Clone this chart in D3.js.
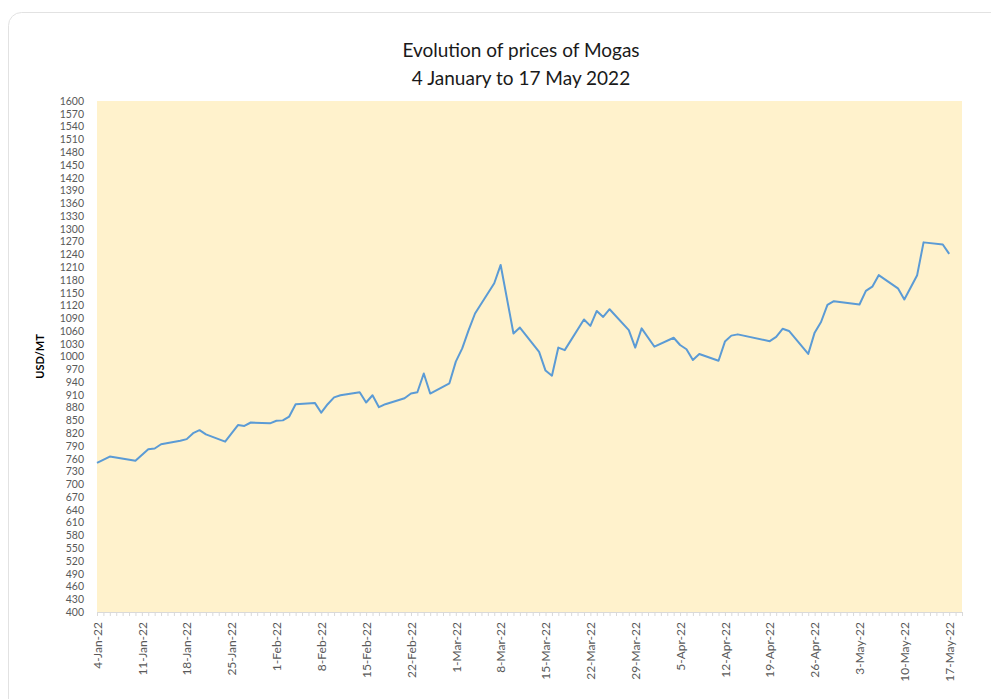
<!DOCTYPE html>
<html>
<head>
<meta charset="utf-8">
<script src="https://cdn.jsdelivr.net/npm/d3@7"></script>
<style>
  body { margin: 0; background: #fff; }
  svg { display: block; }
</style>
</head>
<body>
<div id="chart"></div>
<script>
// data
var dates = ["2022-01-04","2022-01-06","2022-01-10","2022-01-12","2022-01-13","2022-01-14","2022-01-17","2022-01-18",
  "2022-01-19","2022-01-20","2022-01-21","2022-01-24","2022-01-26","2022-01-27","2022-01-28","2022-01-31",
  "2022-02-01","2022-02-02","2022-02-03","2022-02-04","2022-02-07","2022-02-08","2022-02-09","2022-02-10",
  "2022-02-11","2022-02-14","2022-02-15","2022-02-16","2022-02-17","2022-02-18","2022-02-21","2022-02-22",
  "2022-02-23","2022-02-24","2022-02-25","2022-02-28","2022-03-01","2022-03-02","2022-03-03","2022-03-04",
  "2022-03-07","2022-03-08","2022-03-10","2022-03-11","2022-03-14","2022-03-15","2022-03-16","2022-03-17",
  "2022-03-18","2022-03-21","2022-03-22","2022-03-23","2022-03-24","2022-03-25","2022-03-28","2022-03-29",
  "2022-03-30","2022-04-01","2022-04-04","2022-04-05","2022-04-06","2022-04-07","2022-04-08","2022-04-11",
  "2022-04-12","2022-04-13","2022-04-14","2022-04-19","2022-04-20","2022-04-21","2022-04-22","2022-04-25",
  "2022-04-26","2022-04-27","2022-04-28","2022-04-29","2022-05-03","2022-05-04","2022-05-05","2022-05-06",
  "2022-05-09","2022-05-10","2022-05-12","2022-05-13","2022-05-16","2022-05-17"];
var prices = [750,765,755,782,784,794,802,806,
  820,827,817,800,839,837,845,843,
  849,850,859,888,891,868,888,904,
  909,916,892,909,881,888,902,913,
  916,960,913,937,988,1019,1062,1101,
  1172,1215,1054,1068,1011,967,955,1021,
  1015,1087,1072,1107,1093,1111,1062,1021,
  1066,1023,1044,1027,1017,992,1006,990,
  1035,1049,1052,1036,1046,1065,1060,1006,
  1056,1081,1121,1130,1122,1154,1164,1191,
  1160,1134,1191,1268,1263,1241];

var yTicks = d3.range(400, 1601, 30);
var xTickDates = ["2022-01-04","2022-01-11","2022-01-18","2022-01-25","2022-02-01","2022-02-08","2022-02-15",
  "2022-02-22","2022-03-01","2022-03-08","2022-03-15","2022-03-22","2022-03-29","2022-04-05","2022-04-12",
  "2022-04-19","2022-04-26","2022-05-03","2022-05-10","2022-05-17"];
var xDomain = ["2022-01-04", "2022-05-19"];

var title1 = "Evolution of prices of Mogas";
var title2 = "4 January to 17 May 2022";
var yLabel = "USD/MT";

var W = 991, H = 699;
var plot = {left: 97, right: 962, top: 101, bottom: 612};

var parse = d3.utcParse("%Y-%m-%d");
var fmt = d3.utcFormat("%-d-%b-%y");

var data = dates.map(function(d, i) { return {date: parse(d), value: prices[i]}; });

var svg = d3.select("#chart")
  .append("svg")
    .attr("width", W)
    .attr("height", H);

// card
svg.append("rect")
  .attr("x", 8.5).attr("y", 12.5)
  .attr("width", 1010).attr("height", 720)
  .attr("rx", 13)
  .style("fill", "#fff")
  .style("stroke", "#e2e2e2");

var x = d3.scaleUtc()
  .domain(xDomain.map(parse))
  .range([plot.left, plot.right]);

var y = d3.scaleLinear()
  .domain([400, 1600])
  .range([plot.bottom, plot.top]);

// plot background
svg.append("rect")
  .attr("x", plot.left).attr("y", plot.top)
  .attr("width", plot.right - plot.left)
  .attr("height", plot.bottom - plot.top)
  .style("fill", "#fff2cc");

// titles
svg.append("text")
  .attr("x", 521).attr("y", 57)
  .attr("text-anchor", "middle")
  .style("font-family", "Lato, sans-serif")
  .style("font-size", "19px")
  .style("fill", "#1a1a1a")
  .text(title1);
svg.append("text")
  .attr("x", 521).attr("y", 85)
  .attr("text-anchor", "middle")
  .style("font-family", "Lato, sans-serif")
  .style("font-size", "19px")
  .style("fill", "#1a1a1a")
  .text(title2);

// Y axis (labels only)
var yAxis = svg.append("g")
  .attr("transform", "translate(" + (plot.left - 13) + ",0)")
  .call(d3.axisLeft(y).tickValues(yTicks).tickFormat(d3.format("d")).tickSize(0).tickPadding(0));
yAxis.select(".domain").remove();
yAxis.selectAll("text")
  .style("font-family", "Lato, sans-serif")
  .style("font-size", "10.5px")
  .style("fill", "#595959");

svg.append("text")
  .attr("transform", "translate(44," + ((plot.top + plot.bottom) / 2) + ") rotate(-90)")
  .attr("text-anchor", "middle")
  .style("font-family", "Lato, sans-serif")
  .style("font-weight", "bold")
  .style("font-size", "11px")
  .style("fill", "#000")
  .text(yLabel);

// X axis: daily minor ticks
var xMinor = svg.append("g")
  .attr("transform", "translate(0," + plot.bottom + ")")
  .call(d3.axisBottom(x).ticks(d3.utcDay.every(1)).tickSize(4).tickFormat(""));
xMinor.select(".domain").style("stroke", "#d9d9d9");
xMinor.selectAll(".tick line").style("stroke", "#d9d9d9");

// X axis labels every week
var xAxis = svg.append("g")
  .attr("transform", "translate(0," + plot.bottom + ")")
  .call(d3.axisBottom(x).tickValues(xTickDates.map(parse)).tickSize(0).tickFormat(fmt));
xAxis.select(".domain").remove();
xAxis.selectAll("text")
  .attr("transform", "rotate(-90)")
  .attr("x", -10)
  .attr("y", 0)
  .attr("dy", "0.35em")
  .style("text-anchor", "end")
  .style("font-family", "Lato, sans-serif")
  .style("font-size", "12px")
  .style("fill", "#595959");

// line
var line = d3.line()
  .x(function(d) { return x(d.date); })
  .y(function(d) { return y(d.value); });

svg.append("path")
  .datum(data)
  .attr("d", line)
  .style("fill", "none")
  .style("stroke", "#5b9bd5")
  .style("stroke-width", 2)
  .style("stroke-linejoin", "round");
</script>
</body>
</html>
